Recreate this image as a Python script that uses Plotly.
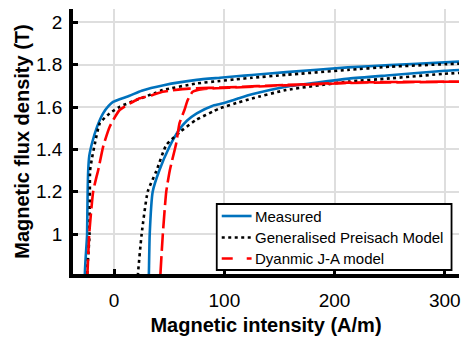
import plotly.graph_objects as go

# Hysteresis loop data: H in A/m, B in T.
# Each loop = descending branch (right -> left) followed by ascending branch (left -> right).

meas_desc_H = [320, 300, 250, 212, 156, 125, 111, 96, 75, 45, 25, 14, 5, -1, -5, -10, -15.5, -20, -22.5, -23.5, -24, -24.5, -24.5]
meas_desc_B = [1.816, 1.811, 1.798, 1.787, 1.765, 1.751, 1.745, 1.738, 1.728, 1.703, 1.677, 1.653, 1.637, 1.624, 1.605, 1.570, 1.506, 1.430, 1.370, 1.300, 1.200, 1.000, 0.700]
meas_asc_H = [31, 31.5, 32.3, 35, 41, 50, 59, 66, 75, 89, 96, 104, 113, 125, 156, 213, 250, 300, 320]
meas_asc_B = [0.70, 0.80, 1.00, 1.20, 1.30, 1.41, 1.492, 1.535, 1.570, 1.605, 1.614, 1.626, 1.641, 1.660, 1.696, 1.734, 1.750, 1.771, 1.777]

gpm_desc_H = [320, 300, 250, 212, 156, 125, 111, 96, 75, 44, 38, 20, 5, -4, -13, -17.4, -20, -21.8, -22, -22.3, -22.5]
gpm_desc_B = [1.806, 1.802, 1.790, 1.775, 1.752, 1.738, 1.731, 1.723, 1.711, 1.680, 1.668, 1.633, 1.601, 1.570, 1.523, 1.428, 1.360, 1.300, 1.200, 1.000, 0.700]
gpm_asc_H = [21, 21.5, 25, 30.5, 38.5, 47.3, 59.3, 74.4, 89.4, 96, 113, 125, 156, 213, 250, 300, 320]
gpm_asc_B = [0.70, 0.80, 1.00, 1.20, 1.30, 1.420, 1.480, 1.539, 1.578, 1.594, 1.622, 1.640, 1.680, 1.720, 1.735, 1.757, 1.763]

ja_desc_H = [320, 300, 250, 212, 155, 104, 68, 44, 35, 23, 20, 5, -4, -10, -14.4, -16, -19, -22.6, -24.4, -27]
ja_desc_B = [1.721, 1.720, 1.718, 1.715, 1.704, 1.693, 1.687, 1.672, 1.657, 1.641, 1.633, 1.586, 1.507, 1.412, 1.302, 1.270, 1.200, 1.000, 0.800, 0.700]
ja_asc_H = [41, 41.9, 44.2, 47.3, 50.5, 56.3, 59.3, 63.8, 66.8, 71.3, 80, 104, 155, 212, 250, 300, 320]
ja_asc_B = [0.70, 0.80, 1.00, 1.20, 1.30, 1.428, 1.523, 1.586, 1.633, 1.672, 1.684, 1.691, 1.702, 1.713, 1.716, 1.719, 1.720]

series_names = ["Measured", "Generalised Preisach Model", "Dyanmic J-A model"]

x_ticks = [0, 100, 200, 300]
y_ticks = [1, 1.2, 1.4, 1.6, 1.8, 2]
y_tick_text = ["1", "1.2", "1.4", "1.6", "1.8", "2"]

FONT = "Liberation Sans, Arial, sans-serif"
W, H = 461, 337
M_L, M_R, M_T, M_B = 73, 0, 9, 63

styles = [
    dict(color="#0072BD", dash="solid", key_dash="solid"),
    dict(color="black", dash="3px,3.5px", key_dash="3px,3.5px"),
    dict(color="#FF0000", dash="18px,5px", key_dash="11px,14px"),
]
loops = [
    (meas_desc_H + meas_asc_H, meas_desc_B + meas_asc_B),
    (gpm_desc_H + gpm_asc_H, gpm_desc_B + gpm_asc_B),
    (ja_desc_H + ja_asc_H, ja_desc_B + ja_asc_B),
]

fig = go.Figure()
for name, (hx, by), st in zip(series_names, loops, styles):
    fig.add_trace(go.Scatter(
        x=hx, y=by, mode="lines", name=name, showlegend=False,
        line=dict(color=st["color"], width=2.6, dash=st["dash"], shape="spline", smoothing=0.5)))


# Legend key drawn in paper coordinates (pixel helpers relative to the plot area)
def px_x(p):
    return (p - M_L) / (W - M_L - M_R)


def px_y(p):
    return (H - M_B - p) / (H - M_T - M_B)


box_l, box_r, box_t, box_b = 217.5, 453.5, 204, 270
row_y = [216, 237.5, 258.5]
fig.add_shape(type="rect", xref="paper", yref="paper",
              x0=px_x(box_l), x1=px_x(box_r), y0=px_y(box_b), y1=px_y(box_t),
              line=dict(color="black", width=1.8), fillcolor="white", layer="above")
for name, st, ry in zip(series_names, styles, row_y):
    fig.add_shape(type="line", xref="paper", yref="paper",
                  x0=px_x(box_l + 5), x1=px_x(box_l + 35), y0=px_y(ry), y1=px_y(ry),
                  line=dict(color=st["color"], width=2.6, dash=st["key_dash"]), layer="above")
    fig.add_annotation(xref="paper", yref="paper", x=px_x(box_l + 36), y=px_y(ry),
                       text=name, showarrow=False, xanchor="left", yanchor="middle",
                       font=dict(family=FONT, size=15, color="black"))

axis_common = dict(
    showline=True, linecolor="black", linewidth=3.5, mirror=False,
    showgrid=True, gridcolor="#dedede", gridwidth=2,
    ticks="inside", ticklen=5, tickwidth=3, tickcolor="black",
    tickfont=dict(family=FONT, size=19, color="black"),
    zeroline=False, ticklabeloverflow="allow",
)

fig.update_xaxes(
    range=[-37.3, 312.9], tickvals=x_ticks, ticklabelstandoff=6,
    title=dict(text="<b>Magnetic intensity (A/m)</b>", font=dict(family=FONT, size=20, color="black"), standoff=9),
    **axis_common)
fig.update_yaxes(
    range=[0.811, 2.063], tickvals=y_ticks, ticktext=y_tick_text, ticklabelstandoff=3,
    title=dict(text="<b>Magnetic flux density (T)</b>", font=dict(family=FONT, size=20, color="black"), standoff=2),
    **axis_common)

fig.update_layout(
    width=W, height=H,
    margin=dict(l=M_L, r=M_R, t=M_T, b=M_B),
    plot_bgcolor="white", paper_bgcolor="white",
    font=dict(family=FONT, color="black"),
    showlegend=False,
)

fig.write_html("out.html")
